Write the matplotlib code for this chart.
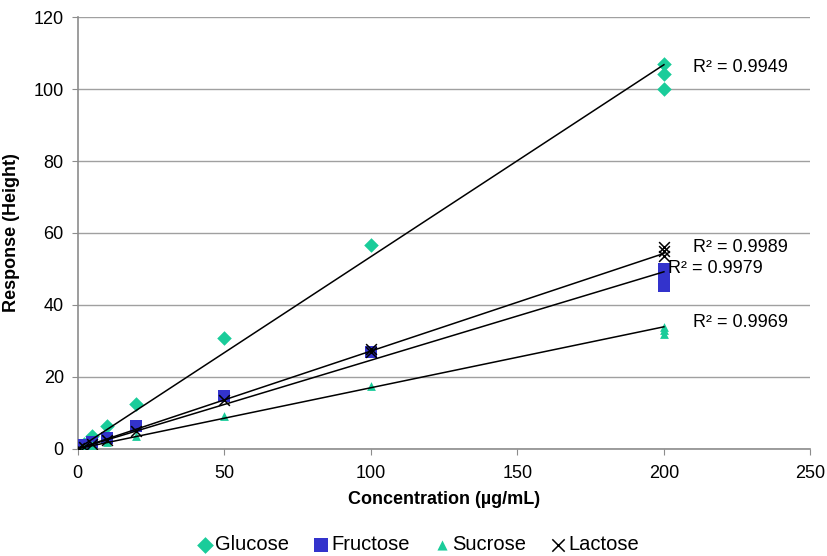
import numpy as np
import matplotlib.pyplot as plt

plt.rcParams['font.family'] = ['Liberation Sans', 'DejaVu Sans']

glucose_x = [1, 2, 5, 10, 20, 50, 100, 200, 200, 200]
glucose_y = [0.6, 1.3, 3.5, 6.2, 12.3, 30.7, 56.7, 106.9, 104.2, 100.0]
fructose_x = [0.5, 2, 5, 10, 20, 50, 100, 200, 200, 200]
fructose_y = [0.4, 1.0, 1.8, 3.0, 6.3, 14.6, 27.0, 50.0, 47.5, 45.3]
sucrose_x = [1, 2, 5, 10, 20, 50, 100, 200, 200, 200]
sucrose_y = [0.2, 0.4, 0.9, 1.8, 3.5, 9.0, 17.3, 33.8, 33.0, 31.8]
lactose_x = [0.5, 2, 5, 10, 20, 50, 100, 100, 200, 200, 200]
lactose_y = [0.2, 0.6, 1.2, 2.5, 5.0, 13.5, 27.6, 27.0, 56.2, 55.0, 53.5]

# linear trendlines (slope, intercept) as drawn in the chart
trend_coef = [(0.534, 0.0), (0.246, 0.0), (0.1695, 0.0), (0.2715, 0.0)]
r2_labels = ['R² = 0.9949', 'R² = 0.9979', 'R² = 0.9969', 'R² = 0.9989']
r2_pos = [(210, 106), (201.5, 50), (210, 35), (210, 56)]

green = '#1ACC9A'
blue = '#3333CC'

fig, ax = plt.subplots(figsize=(8.27, 5.56), dpi=100)
fig.subplots_adjust(left=0.094, right=0.98, top=0.969, bottom=0.193)

series = [
    ('Glucose', glucose_x, glucose_y, dict(marker='D', color=green, s=55, linewidths=0)),
    ('Fructose', fructose_x, fructose_y, dict(marker='s', color=blue, s=85, linewidths=0)),
    ('Sucrose', sucrose_x, sucrose_y, dict(marker='^', color=green, s=40, linewidths=0)),
    ('Lactose', lactose_x, lactose_y, dict(marker='x', color='black', s=60, linewidths=1.1)),
]

for name, x, y, kw in series:
    ax.scatter(x, y, label=name, zorder=3, **kw)

xs = np.array([0, 200])
for slope, icpt in trend_coef:
    ax.plot(xs, slope * xs + icpt, color='black', lw=1.1, zorder=4)

for label, (tx, ty) in zip(r2_labels, r2_pos):
    ax.text(tx, ty, label, fontsize=13, va='center', ha='left')

ax.set_xlim(0, 250)
ax.set_ylim(0, 120)
ax.set_xticks(np.arange(0, 251, 50))
ax.set_yticks(np.arange(0, 121, 20))
ax.yaxis.grid(True, color='#A0A0A0', lw=1)
ax.set_axisbelow(True)
for s in ['top', 'right']:
    ax.spines[s].set_visible(False)
for s in ['left', 'bottom']:
    ax.spines[s].set_color('#8C8C8C')
    ax.spines[s].set_linewidth(1.2)
ax.tick_params(colors='#8C8C8C', labelcolor='black', labelsize=13, length=4)
ax.tick_params(axis='x', pad=8)
ax.tick_params(axis='y', pad=6)

ax.set_xlabel('Concentration (µg/mL)', fontsize=13, fontweight='bold', labelpad=6)
ax.set_ylabel('Response (Height)', fontsize=13, fontweight='bold', labelpad=10)

ax.legend(loc='center', bbox_to_anchor=(0.46, -0.222), ncol=4, frameon=False,
          fontsize=14.5, handletextpad=-0.2, columnspacing=0.9, handlelength=1.4,
          markerscale=1.15)

plt.savefig('out.png', dpi=100)
